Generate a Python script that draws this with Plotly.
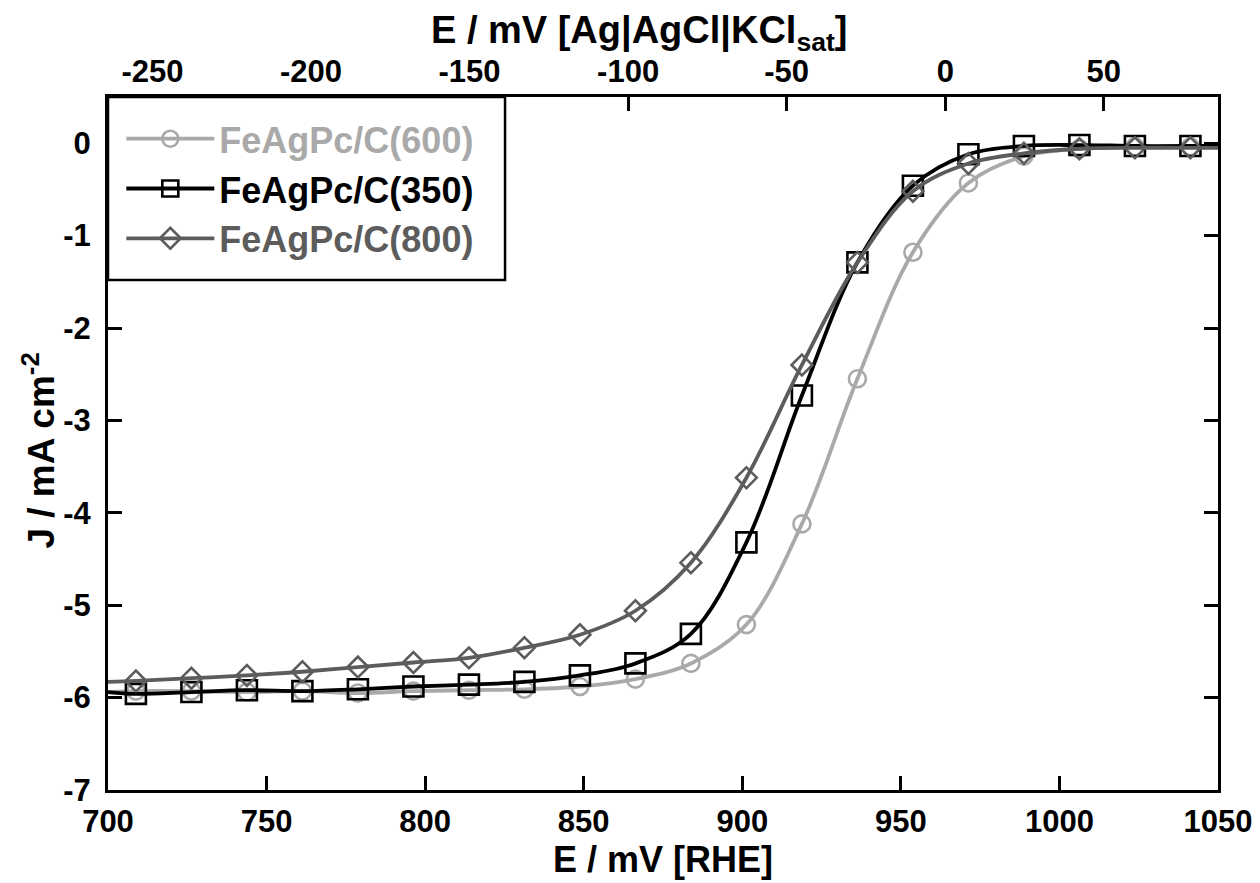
import plotly.graph_objects as go

# ---- data ----
E_mark = [708.8, 726.3, 743.8, 761.3, 778.8, 796.3, 813.8, 831.3, 848.8, 866.3,
          883.8, 901.3, 918.8, 936.3, 953.8, 971.3, 988.8, 1006.3, 1023.8, 1041.3]

J600 = [-5.93, -5.93, -5.94, -5.93, -5.95, -5.93, -5.92, -5.91, -5.88, -5.80,
        -5.63, -5.21, -4.12, -2.55, -1.18, -0.43, -0.14, -0.06, -0.04, -0.04]
J350 = [-5.96, -5.94, -5.92, -5.93, -5.91, -5.88, -5.86, -5.83, -5.76, -5.63,
        -5.31, -4.32, -2.73, -1.29, -0.46, -0.12, -0.03, -0.02, -0.03, -0.03]
J800 = [-5.82, -5.79, -5.76, -5.72, -5.67, -5.62, -5.57, -5.46, -5.32, -5.06,
        -4.54, -3.62, -2.40, -1.29, -0.52, -0.22, -0.11, -0.06, -0.05, -0.05]

# line end points at the left and right borders
E_start, E_end = 700.0, 1050.0
J600_ends = (-5.94, -0.04)
J350_ends = (-5.94, -0.03)
J800_ends = (-5.83, -0.05)

names = ["FeAgPc/C(600)", "FeAgPc/C(350)", "FeAgPc/C(800)"]
colors = ["#a9a9a9", "#000000", "#5c5c5c"]
symbols = ["circle-open", "square-open", "diamond-open"]
msizes = [17, 20, 16]

AGCL_OFFSET = 964  # mV, RHE -> Ag|AgCl|KCl_sat
x_ticks = [700, 750, 800, 850, 900, 950, 1000, 1050]
x2_ticks = [-250, -200, -150, -100, -50, 0, 50]
y_ticks = [0, -1, -2, -3, -4, -5, -6, -7]

FONT = "Liberation Sans, Arial, sans-serif"

fig = go.Figure()
series = [J600, J350, J800]
ends = [J600_ends, J350_ends, J800_ends]
for J, (j0, j1), name, col, sym, ms in zip(series, ends, names, colors, symbols, msizes):
    fig.add_trace(go.Scatter(
        x=[E_start] + E_mark + [E_end], y=[j0] + J + [j1], mode="lines",
        line=dict(color=col, width=3.8, shape="spline", smoothing=1.0),
        showlegend=False, hoverinfo="skip"))
    fig.add_trace(go.Scatter(
        x=E_mark, y=J, mode="markers",
        marker=dict(symbol=sym, size=ms, color=col, line=dict(color=col, width=2.6)),
        showlegend=False))
    fig.add_trace(go.Scatter(
        x=[None], y=[None], mode="lines+markers",
        name="<span style='color:%s'>%s</span>" % (col, name),
        line=dict(color=col, width=3.8),
        marker=dict(symbol=sym, size=ms, color=col, line=dict(color=col, width=2.6))))

# trace to activate top axis
fig.add_trace(go.Scatter(x=[E_start - AGCL_OFFSET, E_end - AGCL_OFFSET], y=[None, None],
                         xaxis="x2", mode="lines", showlegend=False, hoverinfo="skip"))

axis_font = dict(family=FONT, size=31, color="black", weight="bold")
title_font = dict(family=FONT, size=36, color="black", weight="bold")

fig.update_layout(
    width=1260, height=883,
    margin=dict(l=100, r=50, t=89, b=101),
    paper_bgcolor="white", plot_bgcolor="white",
    font=dict(family=FONT, color="black"),
    xaxis=dict(range=[700, 1050], tickvals=x_ticks, ticktext=[str(v) for v in x_ticks],
               ticks="inside", ticklen=14, tickwidth=3, tickcolor="black",
               showline=True, linewidth=3, linecolor="black", mirror=False,
               showgrid=False, zeroline=False,
               tickfont=axis_font, ticklabelstandoff=2,
               title=dict(text="E / mV [RHE]", font=title_font, standoff=0)),
    xaxis2=dict(range=[E_start - AGCL_OFFSET, E_end - AGCL_OFFSET], overlaying="x", side="top",
                tickvals=x2_ticks, ticktext=[str(v) for v in x2_ticks],
                ticks="inside", ticklen=14, tickwidth=3, tickcolor="black",
                showline=True, linewidth=3, linecolor="black",
                showgrid=False, zeroline=False, tickfont=axis_font),
    yaxis=dict(range=[-7, 0.5], tickvals=y_ticks, ticktext=[str(v) for v in y_ticks],
               ticks="inside", ticklen=14, tickwidth=3, tickcolor="black",
               showline=True, linewidth=3, linecolor="black", mirror="ticks",
               showgrid=False, zeroline=False, tickfont=axis_font, ticklabelstandoff=8),
    legend=dict(x=0.012, y=0.983, xanchor="left", yanchor="top",
                bgcolor="rgba(0,0,0,0)", borderwidth=0,
                font=dict(family=FONT, size=36, weight="bold"), itemwidth=88,
                tracegroupgap=0),
    shapes=[dict(type="rect", xref="paper", yref="paper", x0=0, x1=0.3577, y0=0.736, y1=1,
                 line=dict(color="black", width=2.5), fillcolor="white", layer="above")],
    annotations=[
        dict(text="E / mV [Ag|AgCl|KCl<sub>sat</sub>]", xref="paper", yref="paper",
             x=0.478, y=1.093, xanchor="center", yanchor="middle", showarrow=False,
             font=dict(family=FONT, size=38, color="black", weight="bold")),
        dict(text="J / mA cm<sup>-2</sup>", xref="paper", yref="paper",
             x=-0.062, y=0.49, xanchor="center", yanchor="middle", showarrow=False,
             textangle=-90, font=dict(family=FONT, size=37, color="black", weight="bold")),
    ],
)

fig.write_html("out.html")
